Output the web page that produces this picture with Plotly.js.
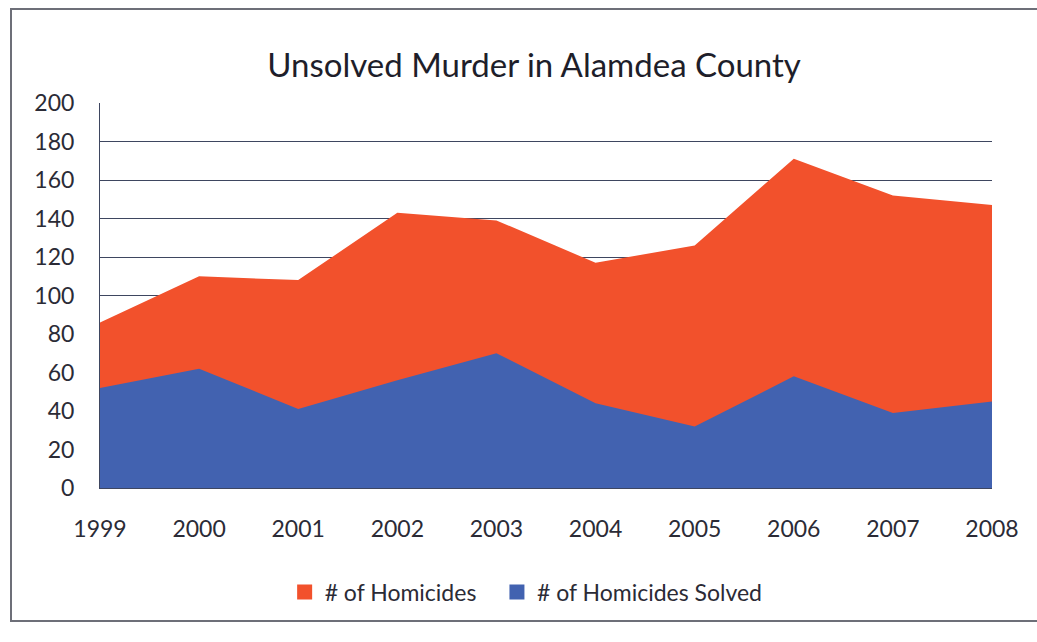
<!DOCTYPE html>
<html>
<head>
<meta charset="utf-8">
<script src="https://cdn.plot.ly/plotly-3.0.1.min.js"></script>
<style>
  html, body { margin: 0; padding: 0; background: #ffffff; }
  #frame { position: absolute; left: 10px; top: 8px; width: 1040px; height: 614px;
           border: 2px solid #6d6f78; border-right: none; box-sizing: border-box; }
  #chart { position: absolute; left: 0; top: 0; width: 1037px; height: 642px; }
</style>
</head>
<body>
<div id="frame"></div>
<div id="chart"></div>
<script>
const years = ['1999', '2000', '2001', '2002', '2003', '2004', '2005', '2006', '2007', '2008'];
const homicides = [86, 110, 108, 143, 139, 117, 126, 171, 152, 147];
const homicidesSolved = [52, 62, 41, 56, 70, 44, 32, 58, 39, 45];
const seriesNames = ['# of Homicides', '# of Homicides Solved'];
const yTicks = [0, 20, 40, 60, 80, 100, 120, 140, 160, 180, 200];

const orange = '#f2512c';
const blue = '#4262b0';
const textColor = '#2b2b36';

const traces = [
  { x: years, y: homicides, type: 'scatter', mode: 'none', fill: 'tozeroy',
    fillcolor: orange, name: seriesNames[0], showlegend: false, hoverinfo: 'x+y+name' },
  { x: years, y: homicidesSolved, type: 'scatter', mode: 'none', fill: 'tozeroy',
    fillcolor: blue, name: seriesNames[1], showlegend: false, hoverinfo: 'x+y+name' },
  { x: [null], y: [null], type: 'scatter', mode: 'markers', name: seriesNames[0],
    legend: 'legend', marker: { symbol: 'square', size: 15, color: orange } },
  { x: [null], y: [null], type: 'scatter', mode: 'markers', name: seriesNames[1],
    legend: 'legend2', marker: { symbol: 'square', size: 15, color: blue } }
];

const legendCommon = { orientation: 'h', yanchor: 'middle', y: -0.27, xanchor: 'left',
  font: { size: 23, color: textColor }, itemwidth: 30, bgcolor: 'rgba(0,0,0,0)' };

const layout = {
  width: 1037, height: 642,
  paper_bgcolor: 'rgba(0,0,0,0)', plot_bgcolor: 'rgba(0,0,0,0)',
  margin: { l: 100, r: 45, t: 103, b: 154 },
  font: { family: 'Lato, "Open Sans", sans-serif', color: textColor, size: 23 },
  title: { text: 'Unsolved Murder in Alamdea County', x: 0.515, xanchor: 'center',
           y: 1 - 65 / 642, yanchor: 'middle', yref: 'container',
           font: { family: 'Lato, "Open Sans", sans-serif', size: 33, color: '#1e1e2a' } },
  xaxis: { type: 'category', categoryorder: 'array', categoryarray: years,
           range: [0, years.length - 1], showgrid: false, zeroline: false,
           showline: true, linecolor: '#3e4660', linewidth: 1, ticks: '',
           ticklabelstandoff: 20, tickfont: { size: 23, color: textColor }, fixedrange: true },
  yaxis: { range: [0, 200], tickvals: yTicks, ticktext: yTicks.map(String),
           showgrid: true, gridcolor: '#3e4660', gridwidth: 1, zeroline: false,
           showline: true, linecolor: '#3e4660', linewidth: 1, ticks: '',
           ticklabelstandoff: 20, tickfont: { size: 23, color: textColor }, fixedrange: true },
  legend: Object.assign({}, legendCommon, { x: 0.207 }),
  legend2: Object.assign({}, legendCommon, { x: 0.445 }),
  showlegend: true
};

Plotly.newPlot('chart', traces, layout, { displayModeBar: false, staticPlot: true });
</script>
</body>
</html>
